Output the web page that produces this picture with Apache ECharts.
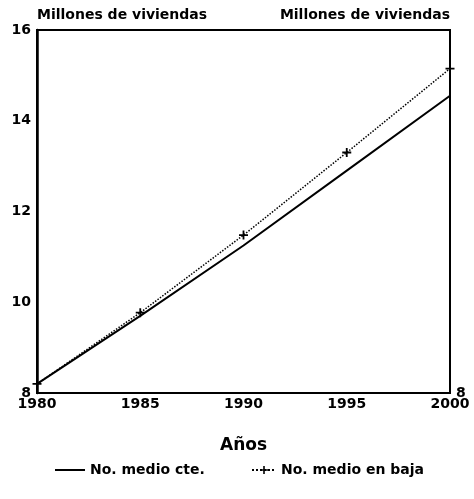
<!DOCTYPE html>
<html>
<head>
<meta charset="utf-8">
<script src="https://cdn.jsdelivr.net/npm/echarts@6/dist/echarts.min.js"></script>
<style>
html, body { margin: 0; padding: 0; background: #fff; }
#chart { width: 474px; height: 499px; }
</style>
</head>
<body>
<div id="chart"></div>
<script>
// datos
var years = [1980, 1985, 1990, 1995, 2000];
var medioCte = [8.2, 9.7, 11.25, 12.9, 14.55];
var medioBaja = [8.2, 9.77, 11.48, 13.3, 15.15];
var yTitle = 'Millones de viviendas';
var xTitle = 'Años';
var names = ['No. medio cte.', 'No. medio en baja'];

var font = 'DejaVu Sans';
var plus = 'path://M4,0h2v4h4v2h-4v4h-2v-4h-4v-2h4z';
var legendText = { fontFamily: font, fontWeight: 'bold', fontSize: 14, color: '#000' };
var tickText = { fontFamily: font, fontWeight: 'bold', fontSize: 14, color: '#000' };

function pairs(xs, ys) {
    var out = [];
    for (var i = 0; i < xs.length; i++) out.push([xs[i], ys[i]]);
    return out;
}

var chart = echarts.init(document.getElementById('chart'));

chart.setOption({
    animation: false,
    backgroundColor: '#fff',
    textStyle: { fontFamily: font, color: '#000' },
    grid: {
        left: 37, right: 24, top: 30, bottom: 106,
        show: true, borderColor: '#000', borderWidth: 2
    },
    // dos leyendas para controlar el icono de cada una
    legend: [{
        top: 458,
        left: 50,
        icon: 'rect',
        itemWidth: 30,
        itemHeight: 2,
        textStyle: legendText,
        data: [names[0]]
    }, {
        top: 458,
        left: 246,
        itemWidth: 24,
        itemHeight: 10,
        textStyle: legendText,
        data: [names[1]]
    }],
    xAxis: {
        type: 'value',
        min: 1980, max: 2000, interval: 5,
        name: xTitle,
        nameLocation: 'middle',
        nameGap: 44,
        nameTextStyle: { fontFamily: font, fontSize: 17, fontWeight: 'bold', color: '#000' },
        axisLine: { lineStyle: { color: '#000', width: 2 } },
        axisTick: { show: false },
        splitLine: { show: false },
        axisLabel: Object.assign({
            margin: 4,
            formatter: function (v) { return String(v); }
        }, tickText)
    },
    yAxis: [{
        type: 'value',
        min: 8, max: 16, interval: 2,
        name: yTitle,
        nameLocation: 'end',
        nameGap: 8,
        nameTextStyle: { align: 'left', fontFamily: font, fontWeight: 'bold', fontSize: 14, color: '#000' },
        axisLine: { show: true, lineStyle: { color: '#000', width: 2.5 } },
        axisTick: { show: false },
        splitLine: { show: false },
        axisLabel: Object.assign({ margin: 6 }, tickText)
    }, {
        type: 'value',
        position: 'right',
        min: 8, max: 16, interval: 2,
        name: yTitle,
        nameLocation: 'end',
        nameGap: 8,
        nameTextStyle: { align: 'right', fontFamily: font, fontWeight: 'bold', fontSize: 14, color: '#000' },
        axisLine: { show: true, lineStyle: { color: '#000', width: 1.5 } },
        axisTick: { show: false },
        splitLine: { show: false },
        axisLabel: Object.assign({
            margin: 6,
            formatter: function (v) { return v === 8 ? '8' : ''; }
        }, tickText)
    }],
    series: [{
        name: names[0],
        type: 'line',
        symbol: 'none',
        lineStyle: { color: '#000', width: 2 },
        itemStyle: { color: '#000' },
        data: pairs(years, medioCte)
    }, {
        name: names[1],
        type: 'line',
        symbol: plus,
        symbolSize: 9,
        lineStyle: { color: '#000', width: 1.5, type: 'dotted' },
        itemStyle: { color: '#000' },
        data: pairs(years, medioBaja)
    }]
});
</script>
</body>
</html>
